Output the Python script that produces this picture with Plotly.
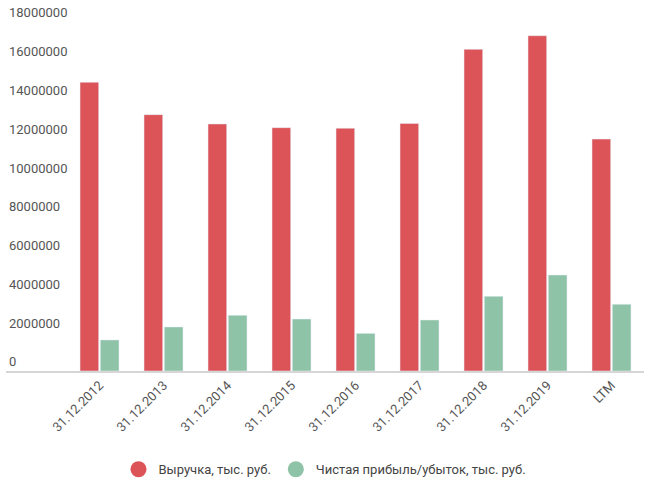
import plotly.graph_objects as go

categories = ["31.12.2012", "31.12.2013", "31.12.2014", "31.12.2015", "31.12.2016",
              "31.12.2017", "31.12.2018", "31.12.2019", "LTM"]
revenue = [14890000, 13220000, 12740000, 12550000, 12520000,
           12770000, 16590000, 17290000, 11960000]
profit = [1600000, 2270000, 2870000, 2680000, 1940000,
          2630000, 3850000, 4950000, 3440000]
y_ticks = [0, 2000000, 4000000, 6000000, 8000000, 10000000,
           12000000, 14000000, 16000000, 18000000]
names = ["Выручка, тыс. руб.", "Чистая прибыль/убыток, тыс. руб."]
colors = ["#DC5458", "#8FC3A7"]

fig = go.Figure()
fig.add_trace(go.Bar(x=categories, y=revenue, name=names[0], marker_color=colors[0],
                     showlegend=False))
fig.add_trace(go.Bar(x=categories, y=profit, name=names[1], marker_color=colors[1],
                     showlegend=False))
for n, c in zip(names, colors):
    fig.add_trace(go.Scatter(x=[None], y=[None], mode="markers", name=n,
                             marker=dict(color=c, size=16, symbol="circle")))

fig.update_layout(
    width=645, height=485,
    margin=dict(l=6, r=1, t=0, b=114),
    paper_bgcolor="white", plot_bgcolor="white",
    font=dict(family="Roboto", size=13, color="#555555"),
    barmode="group", bargap=0.366, bargroupgap=0.08,
    legend=dict(orientation="h", x=0.5, xanchor="center", y=-0.265, yanchor="middle",
                font=dict(size=13, color="#444444")),
    xaxis=dict(range=[-1.461, 8.508], tickangle=-45, showline=True, linecolor="#d6d6d6",
               linewidth=1.5, showgrid=False, ticks="", tickfont=dict(size=13, color="#555555")),
    yaxis=dict(range=[0, 19134000], tickvals=y_ticks, ticktext=[str(v) for v in y_ticks],
               ticklabelposition="inside top", showgrid=False, zeroline=False,
               showline=False, ticks="", tickfont=dict(size=13, color="#555555")),
)
fig.write_html("out.html")
